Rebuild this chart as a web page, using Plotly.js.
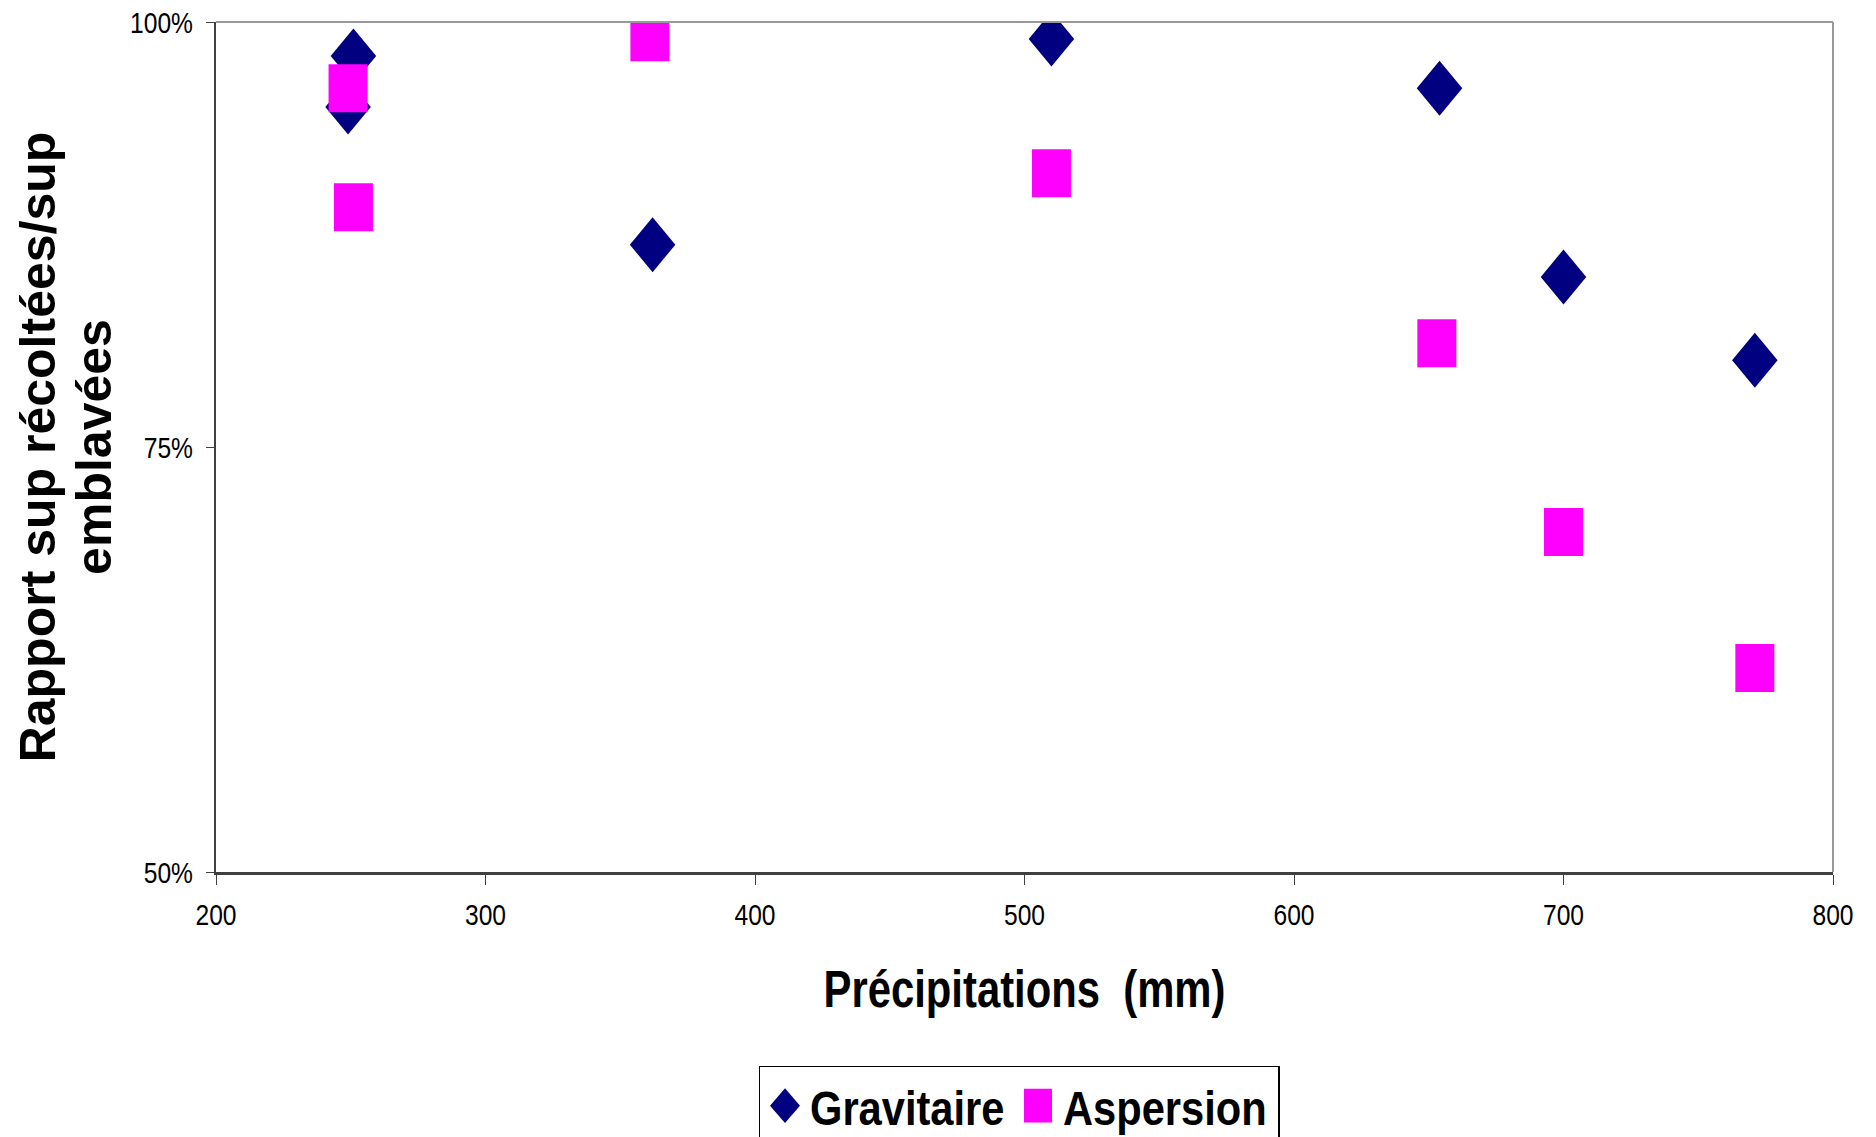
<!DOCTYPE html>
<html>
<head>
<meta charset="utf-8">
<script src="https://cdn.plot.ly/plotly-3.0.1.min.js"></script>
<style>html,body{margin:0;padding:0;background:#fff;}#chart{width:1876px;height:1137px;}</style>
</head>
<body>
<div id="chart"></div>
<script>
// Data
const gravX = [251, 249, 362, 510, 654, 700, 771];
const gravY = [0.980, 0.950, 0.869, 0.990, 0.961, 0.850, 0.801];
const aspX = [249, 251, 361, 510, 653, 700, 771];
const aspY = [0.961, 0.891, 0.991, 0.911, 0.811, 0.700, 0.620];
const xTicks = [200, 300, 400, 500, 600, 700, 800];
const yTicks = [0.5, 0.75, 1.0];
const yTickText = ['50%', '75%', '100%'];
const seriesNames = ['Gravitaire', 'Aspersion'];

const font = '"Liberation Sans", Arial, sans-serif';

const traces = [
  {x: gravX, y: gravY, name: seriesNames[0], type: 'scatter', mode: 'markers',
   legendwidth: 198,
   marker: {symbol: 'diamond', size: 35, color: '#000080'}},
  {x: aspX, y: aspY, name: seriesNames[1], type: 'scatter', mode: 'markers',
   legendwidth: 210,
   marker: {symbol: 'square', size: 39, color: '#FF00FF'}}
];

const layout = {
  width: 1876, height: 1137,
  margin: {l: 216, r: 43, t: 22, b: 265, autoexpand: false},
  paper_bgcolor: '#ffffff', plot_bgcolor: '#ffffff',
  showlegend: true,
  legend: {orientation: 'h', x: 0.4966, xanchor: 'center', y: -0.228, yanchor: 'top',
    bordercolor: '#000000', borderwidth: 1.5, bgcolor: '#ffffff',
    font: {family: font, size: 49, color: '#000', weight: 'bold'},
    itemwidth: 40, tracegroupgap: 0},
  xaxis: {range: [200, 800], tickvals: xTicks, ticktext: xTicks.map(String),
    showgrid: false, zeroline: false, showline: true, linecolor: '#404040', linewidth: 2.5,
    ticks: 'outside', ticklen: 10, tickcolor: '#404040', tickwidth: 1,
    ticklabelstandoff: 5,
    tickfont: {family: font, size: 30, color: '#000'},
    title: {text: 'Précipitations\u00a0\u00a0(mm)', standoff: 41,
      font: {family: font, size: 51, color: '#000', weight: 'bold'}}},
  yaxis: {range: [0.5, 1.0], tickvals: yTicks, ticktext: yTickText,
    showgrid: false, zeroline: false, showline: true, linecolor: '#404040', linewidth: 2,
    ticks: 'outside', ticklen: 8, tickcolor: '#404040', tickwidth: 1,
    ticklabelstandoff: 7,
    tickfont: {family: font, size: 30, color: '#000'},
    title: {text: 'Rapport sup récoltées/sup<br>emblavées', standoff: 40,
      font: {family: font, size: 50, color: '#000', weight: 'bold'}}},
  shapes: [
    {type: 'line', xref: 'paper', yref: 'paper', x0: 0, x1: 1, y0: 1, y1: 1, line: {color: '#999999', width: 2}},
    {type: 'line', xref: 'paper', yref: 'paper', x0: 1, x1: 1, y0: 0, y1: 1, line: {color: '#999999', width: 2}}
  ]
};

function appendTransform(el, extra) {
  const tr = el.getAttribute('transform') || '';
  el.setAttribute('transform', (tr + ' ' + extra).trim());
}
function condense(sel, k) {
  document.querySelectorAll(sel).forEach(t => {
    const x = parseFloat(t.getAttribute('x') || '0');
    appendTransform(t, `translate(${x},0) scale(${k},1) translate(${-x},0)`);
  });
}

Plotly.newPlot('chart', traces, layout, {displayModeBar: false, staticPlot: true}).then(() => {
  // narrow (Arial Narrow-like) lettering for ticks, x title and legend
  condense('.xtick text, .ytick text, .g-xtitle text', 0.82);
  condense('.legend text.legendtext', 0.85);
  // tighter line spacing for the two-line y title, nudged toward the axis
  const lines = document.querySelectorAll('.g-ytitle text tspan.line');
  if (lines.length > 1) lines[1].setAttribute('dy', '1.12em');
  const yt = document.querySelector('.g-ytitle');
  if (yt) appendTransform(yt, 'translate(10,0)');
  // taller markers, as in the reference
  document.querySelectorAll('.scatterlayer .trace').forEach((tr, i) => {
    tr.querySelectorAll('path.point').forEach(p => appendTransform(p, i === 0 ? 'scale(1,1.21)' : 'scale(1,1.23)'));
  });
  document.querySelectorAll('.legend .traces').forEach((g, i) => {
    g.querySelectorAll('.legendpoints path').forEach(p => appendTransform(p, i === 0 ? 'scale(1.44,1.68)' : 'scale(1.75,2.12)'));
  });
});
</script>
</body>
</html>
